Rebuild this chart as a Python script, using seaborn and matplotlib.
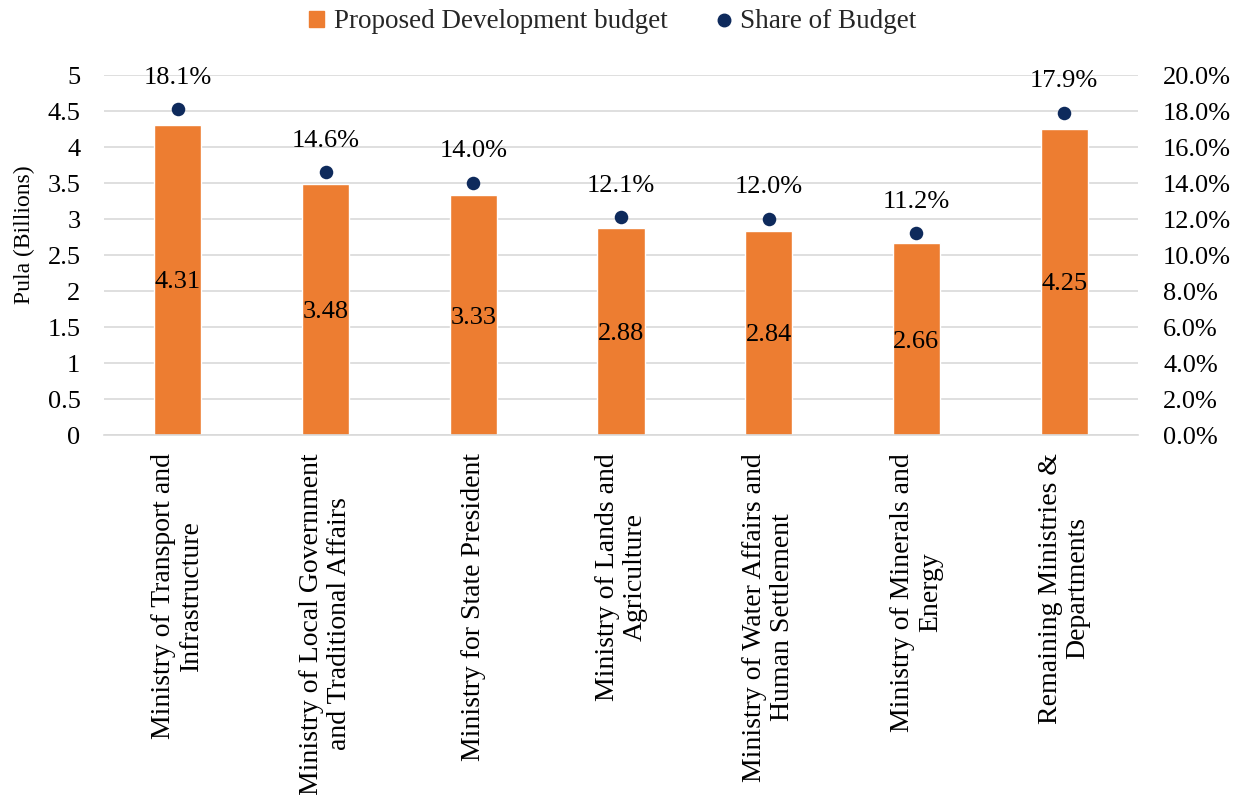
import matplotlib
matplotlib.use("Agg")
import matplotlib.pyplot as plt
import seaborn as sns
import pandas as pd
from matplotlib.ticker import FuncFormatter, MultipleLocator
from matplotlib.lines import Line2D
from matplotlib.patches import Patch

categories = [
    "Ministry of Transport and\nInfrastructure",
    "Ministry of Local Government\nand Traditional Affairs",
    "Ministry for State President",
    "Ministry of Lands and\nAgriculture",
    "Ministry of Water Affairs and\nHuman Settlement",
    "Ministry of Minerals and\nEnergy",
    "Remaining Ministries &\nDepartments",
]
budget = [4.31, 3.48, 3.33, 2.88, 2.84, 2.66, 4.25]
share = [18.1, 14.6, 14.0, 12.1, 12.0, 11.2, 17.9]

sns.set_theme(style="white")
plt.rcParams['font.family'] = ['Liberation Serif', 'DejaVu Serif']

orange = "#ED7D31"
navy = "#0E2A5C"
fs_tick = 19
fs_data = 19
fs_x = 20
fs_leg = 19.5

df = pd.DataFrame({"cat": categories, "budget": budget, "share": share})

W, H = 1243, 795
fig = plt.figure(figsize=(W / 100, H / 100), dpi=100)
ax = fig.add_axes([104 / W, 1 - 435 / H, (1138 - 104) / W, (435 - 75) / H])
sns.barplot(data=df, x="cat", y="budget", color=orange, width=0.32, ax=ax,
            saturation=1)
ax.set_ylim(0, 5)
ax.set_xlim(-0.5, 6.5)
ax.yaxis.set_major_locator(MultipleLocator(0.5))
ax.yaxis.set_major_formatter(FuncFormatter(lambda v, p: f"{v:g}"))
ax.grid(axis="y", color="#D9D9D9", linewidth=1.2)
ax.set_axisbelow(True)
for s in ["top", "right", "left"]:
    ax.spines[s].set_visible(False)
ax.spines["bottom"].set_color("#D9D9D9")
ax.spines["bottom"].set_linewidth(1.2)
ax.set_xlabel("")
ax.set_ylabel("")
ax.tick_params(axis="y", labelsize=fs_tick, length=0, pad=17, colors="black")
ax.tick_params(axis="x", labelsize=fs_x, length=0, pad=13, colors="black")
ax.set_xticks(range(len(categories)))
ax.set_xticklabels(categories, rotation=90, ha="center", va="top",
                   multialignment="center", linespacing=1.15)

fig.text(24 / W, 1 - 235 / H, "Pula (Billions)", rotation=90, ha="center",
         va="center", fontsize=17, color="black")

for i, v in enumerate(budget):
    ax.text(i, v / 2, f"{v:.2f}", ha="center", va="center_baseline",
            fontsize=fs_data, color="black")

ax2 = ax.twinx()
sns.scatterplot(x=list(range(len(categories))), y=share, color=navy, s=95,
                ax=ax2, zorder=5, edgecolor=navy, linewidth=0)
ax2.set_ylim(0, 20)
ax2.set_xlim(-0.5, 6.5)
ax2.yaxis.set_major_locator(MultipleLocator(2))
ax2.yaxis.set_major_formatter(FuncFormatter(lambda v, p: f"{v:.1f}%"))
ax2.tick_params(axis="y", labelsize=fs_tick, length=0, pad=18, colors="black")
for s in ["top", "right", "left", "bottom"]:
    ax2.spines[s].set_visible(False)
ax2.set_ylabel("")
for i, v in enumerate(share):
    ax2.text(i, v + 1.15, f"{v:.1f}%", ha="center", va="bottom",
             fontsize=fs_data, color="black")

handles = [
    Patch(facecolor=orange, edgecolor=orange, label="Proposed Development budget"),
    Line2D([0], [0], marker="o", color="none", markerfacecolor=navy,
           markeredgecolor=navy, markersize=9, label="Share of Budget"),
]
fig.legend(handles=handles, loc="center", bbox_to_anchor=(613 / W, 1 - 22 / H),
           ncol=2, frameon=False, fontsize=fs_leg, handlelength=0.55,
           handleheight=0.55, columnspacing=1.8, handletextpad=0.35,
           borderpad=0)

fig.savefig("out.png", dpi=100)
